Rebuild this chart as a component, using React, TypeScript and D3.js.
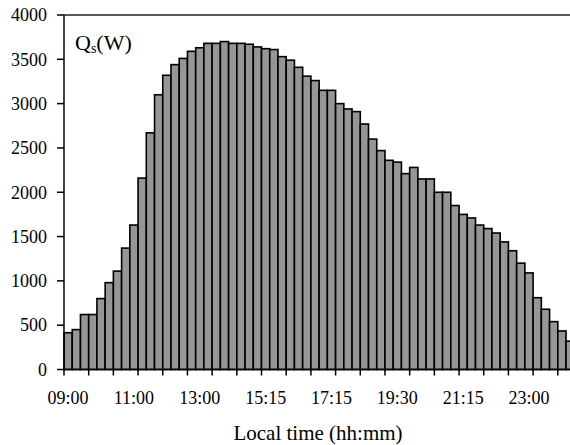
import React from "react";
import * as d3 from "d3";

// sampling times (irregular in the source data)
const times = [
  "09:00", "09:15", "09:30", "09:45", "10:00", "10:15", "10:30", "10:45",
  "11:00", "11:15", "11:30", "11:45", "12:00", "12:15", "12:30", "12:45",
  "13:00", "13:15", "13:30", "13:45", "14:00", "14:30", "14:45", "15:00",
  "15:15", "15:30", "15:45", "16:00", "16:15", "16:30", "16:45", "17:00",
  "17:15", "17:30", "17:45", "18:00", "18:15", "18:30", "18:45", "19:15",
  "19:30", "19:45", "20:00", "20:10", "20:25", "20:40", "20:50", "21:00",
  "21:15", "21:30", "21:40", "21:55", "22:10", "22:25", "22:35", "22:45",
  "23:00", "23:15", "23:25", "23:40", "23:50", "24:00",
];

// Qs in W
const qs = [
  415, 450, 620, 620, 800, 980, 1110, 1370, 1630,
  2160, 2670, 3100, 3320, 3440, 3510, 3590, 3630, 3680, 3680, 3700,
  3680, 3680, 3670, 3640, 3620, 3610, 3530, 3490, 3410, 3310, 3260,
  3150, 3150, 3000, 2940, 2910, 2770, 2600, 2470, 2360, 2340,
  2210, 2280, 2150, 2150, 2000, 2000,
  1850, 1750, 1710, 1630, 1590, 1540, 1440, 1340, 1200, 1090, 810, 680, 540, 435, 320,
];

const yTicks = [0, 500, 1000, 1500, 2000, 2500, 3000, 3500, 4000];

const labelEvery = 8;
const tickEvery = 3;

export default function App() {
  const width = 570;
  const height = 445;
  const left = 64;
  const top = 15;
  const bottom = 369.5;
  const right = left + times.length * 8.23;

  const x = d3.scaleBand<number>()
    .domain(d3.range(times.length))
    .range([left, right])
    .padding(0);

  const y = d3.scaleLinear().domain([0, 4000]).range([bottom, top]);

  const font = "'Liberation Serif', 'Times New Roman', serif";
  const tickPos = d3.range(0, times.length + 1, tickEvery).map(i => left + i * x.step());

  return (
    <svg
      width={width}
      height={height}
      style={{ position: "absolute", left: 0, top: 0, background: "#fff" }}
      fontFamily={font}
    >
      {/* bars */}
      <g>
        {qs.map((v, i) => (
          <rect
            key={i}
            x={x(i)}
            y={y(v)}
            width={x.bandwidth()}
            height={y(0) - y(v)}
            fill="#969696"
            stroke="#000"
            strokeWidth={1.6}
          />
        ))}
      </g>

      {/* plot border top */}
      <line x1={left} x2={right} y1={top} y2={top} stroke="#222" strokeWidth={1.5} />

      {/* y axis */}
      <line x1={left} x2={left} y1={top} y2={bottom} stroke="#000" strokeWidth={1.5} />
      {yTicks.map(t => (
        <g key={t}>
          <line x1={left - 7} x2={left} y1={y(t)} y2={y(t)} stroke="#000" strokeWidth={1.5} />
          <text x={47} y={y(t)} dy="0.35em" textAnchor="end" fontSize={18} fill="#000">
            {t}
          </text>
        </g>
      ))}

      {/* x axis */}
      <line x1={left} x2={right} y1={bottom} y2={bottom} stroke="#000" strokeWidth={1.5} />
      {tickPos.map((p, i) => (
        <line key={i} x1={p} x2={p} y1={bottom} y2={bottom + 6} stroke="#000" strokeWidth={1.5} />
      ))}
      {times.map((t, i) =>
        i % labelEvery === 0 ? (
          <text
            key={t}
            x={(x(i) as number) + x.bandwidth() / 2}
            y={404}
            textAnchor="middle"
            fontSize={18}
            fill="#000"
          >
            {t}
          </text>
        ) : null
      )}

      <text x={318} y={440} textAnchor="middle" fontSize={21} fill="#000">
        Local time (hh:mm)
      </text>

      <text x={75} y={50} fontSize={22} fill="#000">
        Q<tspan fontSize={14} dy={3}>s</tspan>
        <tspan dy={-3}>(W)</tspan>
      </text>
    </svg>
  );
}
